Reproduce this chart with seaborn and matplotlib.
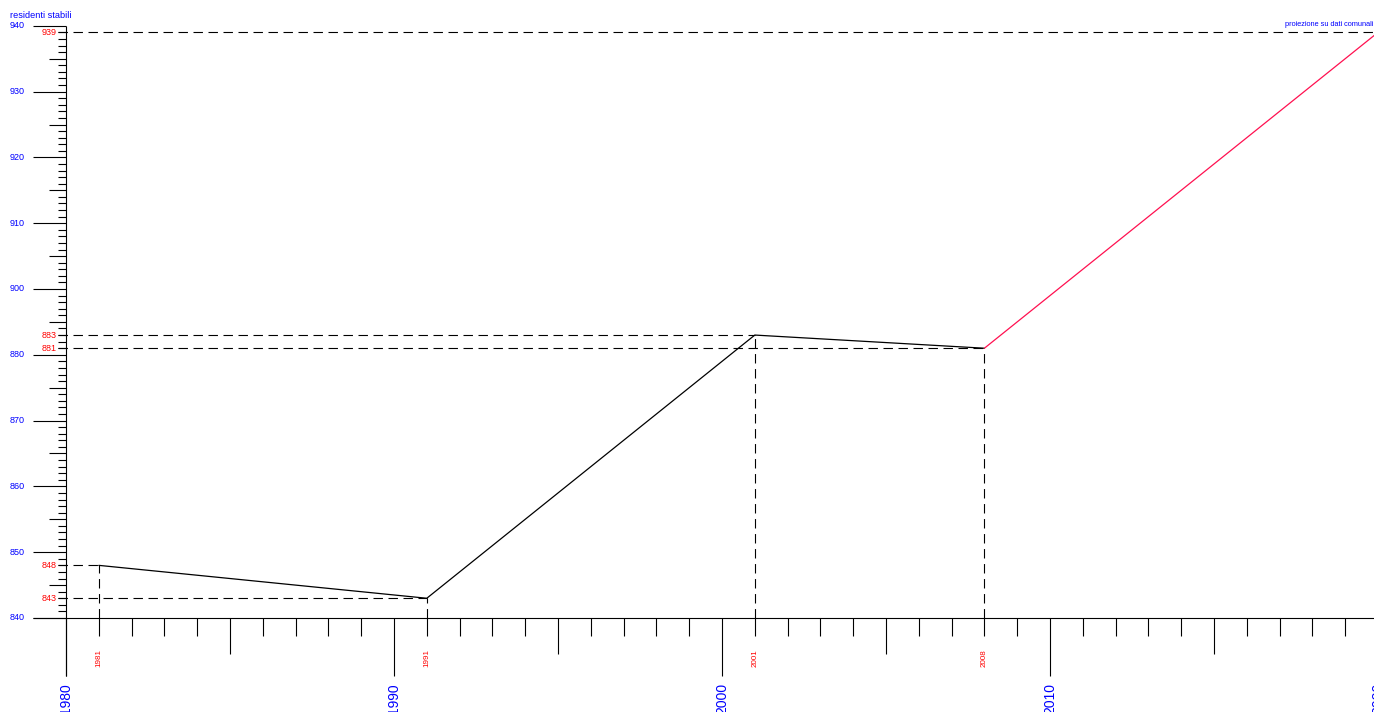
import numpy as np
import pandas as pd
import matplotlib
matplotlib.use("Agg")
import matplotlib.pyplot as plt
import seaborn as sns

# ---- data ----
years_hist = [1981, 1991, 2001, 2008]
res_hist = [848, 843, 883, 881]
years_proj = [2008, 2020]
res_proj = [881, 939]
decade_labels = [1980, 1990, 2000, 2010, 2020]
y_tick_values = [840, 850, 860, 870, 880, 900, 910, 920, 930, 940]
y_title = "residenti stabili"
proj_note = "proiezione su dati comunali"

sns.set_style("white")
plt.rcParams["font.family"] = ["Liberation Sans", "DejaVu Sans"]

BLUE = "#0000ff"
RED = "#ff0000"
PROJ = "#ff1050"

# The reference axis skips the 880-900 stretch (890 is not labelled):
# model that with a piecewise scale.
def fwd(y):
    y = np.asarray(y, dtype=float)
    return np.where(y <= 885, y, np.where(y >= 900, y - 10, 885 + (y - 885) / 3.0))

def inv(p):
    p = np.asarray(p, dtype=float)
    return np.where(p <= 885, p, np.where(p >= 890, p + 10, 885 + (p - 885) * 3.0))

W, H = 1374, 712
X0, SX, SY = 1980, 32.8, 6.58   # 1980 at px 66, px per year, px per unit
X_AX_PX, Y_AX_PX = 66, 618

def xpx(px):
    return X0 + (px - X_AX_PX) / SX

fig = plt.figure(figsize=(W / 100, H / 100), dpi=100)
ax = fig.add_axes([0, 0, 1, 1])
ax.set_yscale("function", functions=(fwd, inv))

df_hist = pd.DataFrame({"anno": years_hist, "residenti": res_hist})
df_proj = pd.DataFrame({"anno": years_proj, "residenti": res_proj})
sns.lineplot(data=df_hist, x="anno", y="residenti", color="black", lw=0.9, ax=ax)
sns.lineplot(data=df_proj, x="anno", y="residenti", color=PROJ, lw=0.9, ax=ax)

ymin_pos = 840 - (H - Y_AX_PX) / SY
ymax_pos = 840 + Y_AX_PX / SY
ax.set_xlim(xpx(0), xpx(W))
ax.set_ylim(float(inv(ymin_pos)), float(inv(ymax_pos)))
ax.axis("off")

ybase = y_tick_values[0]
ytop = y_tick_values[-1]
lw_axis = 0.8

# axes lines
ax.vlines(X0, ybase - 58 / SY, ytop, color="black", lw=lw_axis, clip_on=False)
ax.hlines(ybase, xpx(33), xpx(W), color="black", lw=lw_axis, clip_on=False)

# y ticks (every unit of the drawn scale)
pos_lo, pos_hi = int(fwd(ybase)), int(fwd(ytop))
for p in range(pos_lo, pos_hi + 1):
    rel = p - pos_lo
    L = 33 if rel % 10 == 0 else (17 if rel % 5 == 0 else 8)
    v = float(inv(p))
    ax.hlines(v, X0 - L / SX, X0, color="black", lw=lw_axis)

for v in y_tick_values:
    ax.text(xpx(25), v, str(v), ha="right", va="center", color=BLUE, fontsize=6.5)

# x ticks
for yr in range(decade_labels[0], decade_labels[-1] + 1):
    L = 58 if yr % 10 == 0 else (36 if yr % 5 == 0 else 18)
    ax.vlines(yr, ybase - L / SY, ybase, color="black", lw=lw_axis)

for yr in decade_labels:
    ax.text(yr, ybase - 65 / SY, str(yr), rotation=90, ha="center", va="top",
            color=BLUE, fontsize=10, clip_on=False)

# dashed guides and value labels
dash = (0, (8.5, 5))
all_years = years_hist + years_proj[1:]
all_vals = res_hist + res_proj[1:]
for yr, v in zip(all_years, all_vals):
    ax.hlines(v, xpx(58), yr, color="black", lw=0.8, linestyles=[dash])
    if yr < decade_labels[-1]:
        ax.vlines(yr, ybase, v, color="black", lw=0.8, linestyles=[dash])
        ax.text(yr, ybase - 31 / SY, str(yr), rotation=90, ha="center", va="top",
                color=RED, fontsize=5.8)
    ax.text(xpx(56.5), v, str(v), ha="right", va="center", color=RED, fontsize=6.5)

fig.text(10 / W, 1 - 15 / H, y_title, ha="left", va="center", color=BLUE, fontsize=6.6)
fig.text(1 - 1 / W, 1 - 25 / H, proj_note, ha="right", va="center", color=BLUE, fontsize=5.3)

fig.savefig("out.png", dpi=100)
